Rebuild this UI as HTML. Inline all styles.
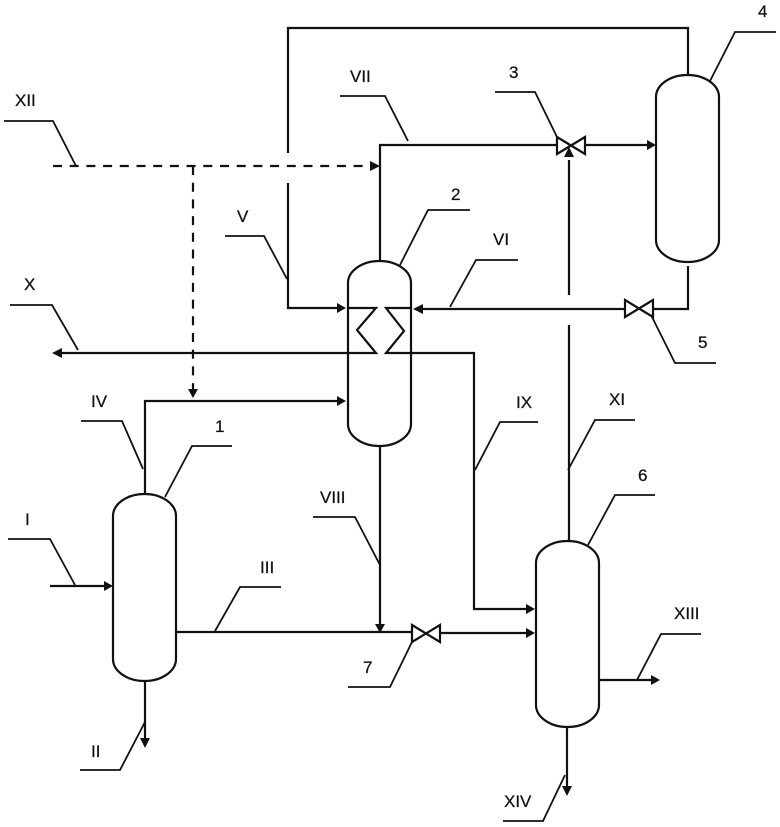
<!DOCTYPE html>
<html>
<head>
<meta charset="utf-8">
<style>
html,body{margin:0;padding:0;background:#fff;width:780px;height:827px;overflow:hidden}
svg{display:block;filter:blur(.35px)}
text{font-family:"Liberation Sans",sans-serif;font-size:17px;fill:#111;stroke:#111;stroke-width:.25}
.m{fill:none;stroke:#111;stroke-width:2.2}
.l{fill:none;stroke:#111;stroke-width:1.8}
.v{fill:#fff;stroke:#111;stroke-width:2.2}
.o{fill:none;stroke:#111;stroke-width:2.2}
.a{fill:#111;stroke:none}
</style>
</head>
<body>
<svg width="780" height="827" viewBox="0 0 780 827" xmlns="http://www.w3.org/2000/svg">
<!-- process lines -->
<path class="m" d="M288 153V28H688V75"/>
<path class="m" d="M288 183V308H340"/>
<path class="m" d="M380 261V145H557"/>
<path class="m" d="M585 145H648"/>
<path class="m" d="M569 295V160"/>
<path class="m" d="M569 541V325"/>
<path class="m" d="M688 266V309H652"/>
<path class="m" d="M625 309H420"/>
<path class="m" d="M348 308H376L357 330L376 353H60"/>
<path class="m" d="M412 308H386L404 331L386 353H474V609H528"/>
<path class="m" d="M145 494V401H340"/>
<path class="m" d="M380 446V625"/>
<path class="m" d="M176 632H412"/>
<path class="m" d="M440 633H528"/>
<path class="m" d="M50 586H106"/>
<path class="m" d="M145 681V740"/>
<path class="m" d="M599 680H652"/>
<path class="m" d="M567 727V788"/>
<!-- dashed -->
<path class="m" d="M53 166H371" stroke-dasharray="9 7.7"/>
<path class="m" d="M193 166V392" stroke-dasharray="9 7.7"/>
<!-- vessels -->
<path class="o" d="M348 283A31.5 22 0 0 1 411 283V424A31.5 22 0 0 1 348 424Z"/>
<path class="v" d="M656 97A31.5 22 0 0 1 719 97V240A31.5 22 0 0 1 656 240Z"/>
<path class="v" d="M113 516A31.5 22 0 0 1 176 516V659A31.5 22 0 0 1 113 659Z"/>
<path class="v" d="M536 563A31.5 22 0 0 1 599 563V705A31.5 22 0 0 1 536 705Z"/>
<!-- valves -->
<path class="v" d="M557 137L585 154V137L557 154Z"/>
<path class="v" d="M625 300L653 317V300L625 317Z"/>
<path class="v" d="M412 625L440 642V625L412 642Z"/>
<!-- arrowheads -->
<path class="a" d="M346 308L337 303V313Z"/>
<path class="a" d="M413 309L423 304V314Z"/>
<path class="a" d="M346 401L337 396V406Z"/>
<path class="a" d="M656 145L647 140V150Z"/>
<path class="a" d="M569 147L564 157H574Z"/>
<path class="a" d="M380 166L370 161V171Z"/>
<path class="a" d="M193 398L188 389H198Z"/>
<path class="a" d="M52 353L62 348V358Z"/>
<path class="a" d="M380 633L375 624H385Z"/>
<path class="a" d="M535 609L526 604V614Z"/>
<path class="a" d="M535 633L526 628V638Z"/>
<path class="a" d="M113 586L104 581V591Z"/>
<path class="a" d="M145 748L140 738H150Z"/>
<path class="a" d="M660 680L651 675V685Z"/>
<path class="a" d="M567 796L562 786H572Z"/>
<!-- leaders -->
<path class="l" d="M4 121H53L76 166"/>
<path class="l" d="M225 236H264L287 279"/>
<path class="l" d="M81 421H122L143 469"/>
<path class="l" d="M165 497L192 446H232"/>
<path class="l" d="M340 96H385L408 141"/>
<path class="l" d="M495 92H535L557 137"/>
<path class="l" d="M710 81L735 32H776"/>
<path class="l" d="M400 265L428 210H470"/>
<path class="l" d="M450 307L476 260H518"/>
<path class="l" d="M10 305H52L78 350"/>
<path class="l" d="M475 470L500 422H538"/>
<path class="l" d="M568 470L595 420H635"/>
<path class="l" d="M588 545L615 495H655"/>
<path class="l" d="M313 517H355L380 565"/>
<path class="l" d="M8 539H50L75 585"/>
<path class="l" d="M215 631L240 587H281"/>
<path class="l" d="M412 642L390 687H348"/>
<path class="l" d="M652 317L675 363H716"/>
<path class="l" d="M637 680L661 634H701"/>
<path class="l" d="M80 770H120L145 722"/>
<path class="l" d="M503 821H543L565 775"/>
<!-- labels -->
<text x="15" y="106">XII</text>
<text x="237" y="222">V</text>
<text x="350" y="82">VII</text>
<text x="509" y="78">3</text>
<text x="758" y="17">4</text>
<text x="451" y="200">2</text>
<text x="493" y="245">VI</text>
<text x="24" y="290">X</text>
<text x="698" y="348">5</text>
<text x="91" y="407">IV</text>
<text x="215" y="432">1</text>
<text x="516" y="408">IX</text>
<text x="609" y="405">XI</text>
<text x="638" y="481">6</text>
<text x="320" y="503">VIII</text>
<text x="25" y="525">I</text>
<text x="260" y="573">III</text>
<text x="363" y="673">7</text>
<text x="674" y="619">XIII</text>
<text x="91" y="757">II</text>
<text x="504" y="807">XIV</text>
</svg>
</body>
</html>
